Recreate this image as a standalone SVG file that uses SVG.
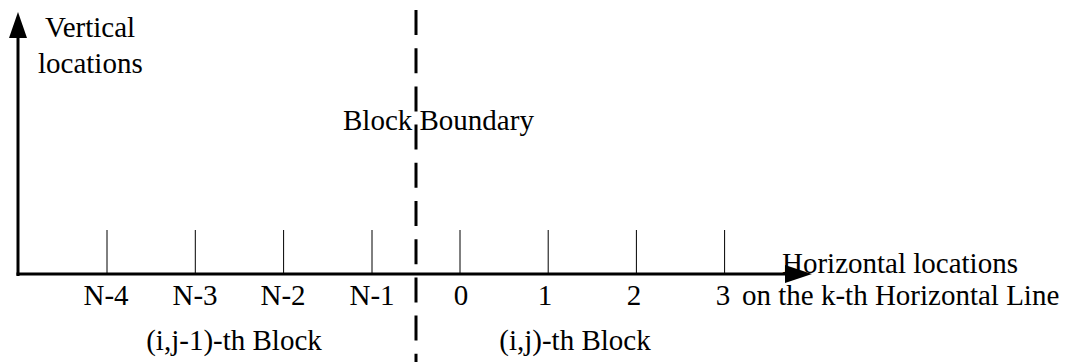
<svg xmlns="http://www.w3.org/2000/svg" width="1070" height="362" viewBox="0 0 1070 362">
<style>
text{font-family:"Liberation Serif","Times New Roman",serif;font-size:29px;fill:#000}
.tick{stroke:#000;stroke-width:1}
.axis{stroke:#000;stroke-width:3;fill:none}
.c{text-anchor:middle}
</style>
<rect width="1070" height="362" fill="#fff"/>
<g id="connectors">
<line class="axis" x1="18" y1="276" x2="18" y2="36"/>
<polygon points="18,12 9,38 27,38" fill="#000"/>
<line class="axis" x1="16.5" y1="274" x2="788" y2="274"/>
<polygon points="812,274 785,265 785,283" fill="#000"/>
<line x1="416" y1="10" x2="416" y2="362" stroke="#000" stroke-width="3" stroke-dasharray="25 13.2"/>
</g>
<g id="ticks">
<line class="tick" x1="107" y1="230" x2="107" y2="274"/>
<line class="tick" x1="195.3" y1="230" x2="195.3" y2="274"/>
<line class="tick" x1="283.6" y1="230" x2="283.6" y2="274"/>
<line class="tick" x1="372" y1="230" x2="372" y2="274"/>
<line class="tick" x1="460" y1="230" x2="460" y2="274"/>
<line class="tick" x1="548.2" y1="230" x2="548.2" y2="274"/>
<line class="tick" x1="636.4" y1="230" x2="636.4" y2="274"/>
<line class="tick" x1="724.6" y1="230" x2="724.6" y2="274"/>
</g>
<g id="labels">
<text x="45" y="37">Vertical</text>
<text x="38" y="73">locations</text>
<text x="343" y="130">Block Boundary</text>
<text x="782" y="273">Horizontal locations</text>
<text class="c" x="106" y="305">N-4</text>
<text class="c" x="195" y="305">N-3</text>
<text class="c" x="283" y="305">N-2</text>
<text class="c" x="372" y="305">N-1</text>
<text class="c" x="461" y="305">0</text>
<text class="c" x="545" y="305">1</text>
<text class="c" x="634" y="305">2</text>
<text class="c" x="723" y="305">3</text>
<text x="742" y="305">on the k-th Horizontal Line</text>
<text class="c" x="234" y="350">(i,j-1)-th Block</text>
<text class="c" x="575" y="350">(i,j)-th Block</text>
</g>
</svg>
